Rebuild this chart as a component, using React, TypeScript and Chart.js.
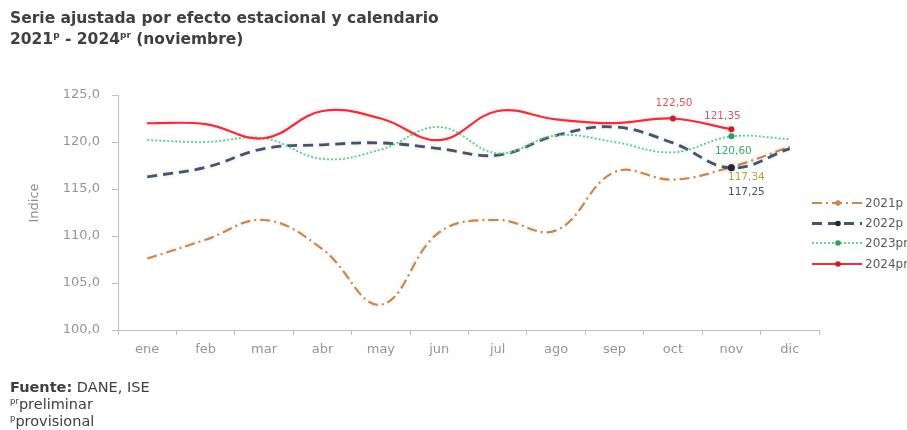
import React, { useEffect, useRef } from 'react';
import { Chart, registerables } from 'chart.js';

Chart.register(...registerables);

const months = ['ene', 'feb', 'mar', 'abr', 'may', 'jun', 'jul', 'ago', 'sep', 'oct', 'nov', 'dic'];
const seriesNames = ['2021p', '2022p', '2023pr', '2024pr'];
const s2021 = [107.6, 109.6, 111.7, 108.6, 102.7, 110.4, 111.7, 110.6, 116.8, 116.0, 117.34, 119.5];
const s2022 = [116.3, 117.3, 119.3, 119.7, 119.9, 119.3, 118.6, 120.7, 121.6, 119.9, 117.25, 119.3];
const s2023 = [120.2, 120.0, 120.4, 118.2, 119.2, 121.6, 118.8, 120.7, 120.0, 118.9, 120.6, 120.3];
const s2024 = [122.0, 121.9, 120.4, 123.3, 122.5, 120.2, 123.3, 122.4, 122.0, 122.5, 121.35, null];
const yMin = 100;
const yMax = 125;
const yStep = 5;

const FONT = '"DejaVu Sans", Verdana, sans-serif';

const colors = ['#C8874F', '#46546B', '#5FCB8E', '#E8323D'];
const pointColors = ['#C8874F', '#1E2638', '#2F9E5E', '#C81F2A'];
const dashes = [[10, 4, 2, 4], [10, 6], [2, 2], []];
const widths = [2.2, 2.8, 1.8, 2.2];

const fmt2 = (v: number) => v.toFixed(2).replace('.', ',');

// data labels: dataset index, point index, offset, colour
const labelSpecs = [
  { ds: 3, i: 9, dx: 1, dy: -15, color: '#E8505A' },
  { ds: 3, i: 10, dx: -9, dy: -13, color: '#E8505A' },
  { ds: 2, i: 10, dx: 2, dy: 15, color: '#3FA86C' },
  { ds: 0, i: 10, dx: 15, dy: 10, color: '#B9A43C' },
  { ds: 1, i: 10, dx: 15, dy: 24, color: '#46546B' },
];

const labelsPlugin = {
  id: 'pointLabels',
  afterDatasetsDraw(chart: any) {
    const ctx = chart.ctx;
    ctx.save();
    ctx.font = `10.5px ${FONT}`;
    ctx.textAlign = 'center';
    ctx.textBaseline = 'middle';
    for (const s of labelSpecs) {
      const meta = chart.getDatasetMeta(s.ds);
      const el = meta.data[s.i];
      const v = chart.data.datasets[s.ds].data[s.i];
      if (!el || v == null) continue;
      ctx.fillStyle = s.color;
      ctx.fillText(fmt2(v), el.x + s.dx, el.y + s.dy);
    }
    ctx.restore();
  },
};

const legendPlugin = {
  id: 'customLegend',
  afterDraw(chart: any) {
    const ctx = chart.ctx;
    const ys = [203, 223.5, 243, 264];
    const x0 = 812;
    const x1 = 862;
    ctx.save();
    chart.data.datasets.forEach((ds: any, k: number) => {
      const y = ys[k];
      ctx.strokeStyle = ds.borderColor;
      ctx.lineWidth = ds.borderWidth;
      ctx.setLineDash(ds.borderDash || []);
      ctx.beginPath();
      ctx.moveTo(x0, y);
      ctx.lineTo(x1, y);
      ctx.stroke();
      ctx.setLineDash([]);
      ctx.fillStyle = pointColors[k];
      ctx.beginPath();
      ctx.arc(838, y, 2.8, 0, Math.PI * 2);
      ctx.fill();
      ctx.fillStyle = '#595959';
      ctx.font = `12px ${FONT}`;
      ctx.textAlign = 'left';
      ctx.textBaseline = 'middle';
      ctx.fillText(seriesNames[k], 865, y + 0.5);
    });
    // y axis title
    ctx.translate(35, 203);
    ctx.rotate(-Math.PI / 2);
    ctx.fillStyle = '#8C8C8C';
    ctx.font = `13px ${FONT}`;
    ctx.textAlign = 'center';
    ctx.textBaseline = 'middle';
    ctx.fillText('Indice', 0, 0);
    ctx.restore();
  },
};

const glowPlugin = {
  id: 'glow',
  beforeDatasetDraw(chart: any, args: any) {
    const ctx = chart.ctx;
    ctx.save();
    const c = colors[args.index];
    ctx.shadowColor = c + '30';
    ctx.shadowBlur = 5;
  },
  afterDatasetDraw(chart: any) {
    chart.ctx.restore();
  },
};

function radiusFor(ds: number) {
  return months.map((_, i) => {
    if (ds === 3 && (i === 9 || i === 10)) return 3;
    if (i === 10) return ds === 1 ? 3.5 : 3;
    return 0;
  });
}

export default function App() {
  const ref = useRef<HTMLCanvasElement | null>(null);

  useEffect(() => {
    document.body.style.margin = '0';
    if (!ref.current) return;
    const all = [s2021, s2022, s2023, s2024];
    const chart = new Chart(ref.current, {
      type: 'line',
      data: {
        labels: months,
        datasets: all.map((d, k) => ({
          label: seriesNames[k],
          data: d,
          borderColor: colors[k],
          backgroundColor: pointColors[k],
          borderWidth: widths[k],
          borderDash: dashes[k],
          tension: 0.4,
          fill: false,
          pointRadius: radiusFor(k),
          pointBackgroundColor: pointColors[k],
          pointBorderColor: pointColors[k],
          pointBorderWidth: 0,
          order: 3 - k,
          spanGaps: false,
        })),
      },
      options: {
        responsive: false,
        animation: false,
        layout: { padding: { left: 0, right: 88, top: 95, bottom: 70 } },
        plugins: {
          legend: { display: false },
          tooltip: { enabled: false },
          title: { display: false },
        },
        scales: {
          x: {
            offset: true,
            afterFit(scale: any) {
              scale.height = 30;
            },
            grid: {
              display: true,
              drawOnChartArea: false,
              drawTicks: true,
              tickLength: 5,
              offset: true,
              color: '#BFBFBF',
            },
            border: { display: true, color: '#BFBFBF', width: 1 },
            ticks: {
              color: '#959595',
              font: { family: FONT, size: 13 },
              padding: 7,
              maxRotation: 0,
              autoSkip: false,
            },
          },
          y: {
            min: yMin,
            max: yMax,
            afterFit(scale: any) {
              scale.width = 118;
            },
            grid: {
              display: true,
              drawOnChartArea: false,
              drawTicks: true,
              tickLength: 6,
              color: '#BFBFBF',
            },
            border: { display: true, color: '#BFBFBF', width: 1 },
            ticks: {
              stepSize: yStep,
              color: '#959595',
              font: { family: FONT, size: 13 },
              padding: 12,
              callback: (v: any) => Number(v).toFixed(1).replace('.', ','),
            },
          },
        },
      },
      plugins: [glowPlugin, labelsPlugin, legendPlugin],
    });
    return () => chart.destroy();
  }, []);

  const textColor = '#404040';
  const sup = { fontSize: 9, verticalAlign: '6px', lineHeight: 0 } as const;
  return (
    <div style={{ position: 'relative', width: 907, height: 430, overflow: 'hidden', background: '#fff' }}>
      <canvas ref={ref} width={907} height={430} style={{ position: 'absolute', left: 0, top: 0 }} />
      <div
        style={{
          position: 'absolute',
          left: 10,
          top: 8,
          fontFamily: FONT,
          fontWeight: 700,
          fontSize: 15.5,
          lineHeight: '21px',
          color: textColor,
          whiteSpace: 'nowrap',
        }}
      >
        <div>Serie ajustada por efecto estacional y calendario</div>
        <div>
          2021<sup style={sup}>p</sup> - 2024<sup style={sup}>pr</sup> (noviembre)
        </div>
      </div>
      <div
        style={{
          position: 'absolute',
          left: 10,
          top: 379,
          fontFamily: FONT,
          fontSize: 14.5,
          lineHeight: '17px',
          color: textColor,
          whiteSpace: 'nowrap',
        }}
      >
        <div>
          <b>Fuente:</b> DANE, ISE
        </div>
        <div>
          <sup style={{ fontSize: 8.5, verticalAlign: '5px', lineHeight: 0 }}>pr</sup>preliminar
        </div>
        <div>
          <sup style={{ fontSize: 8.5, verticalAlign: '5px', lineHeight: 0 }}>p</sup>provisional
        </div>
      </div>
    </div>
  );
}
